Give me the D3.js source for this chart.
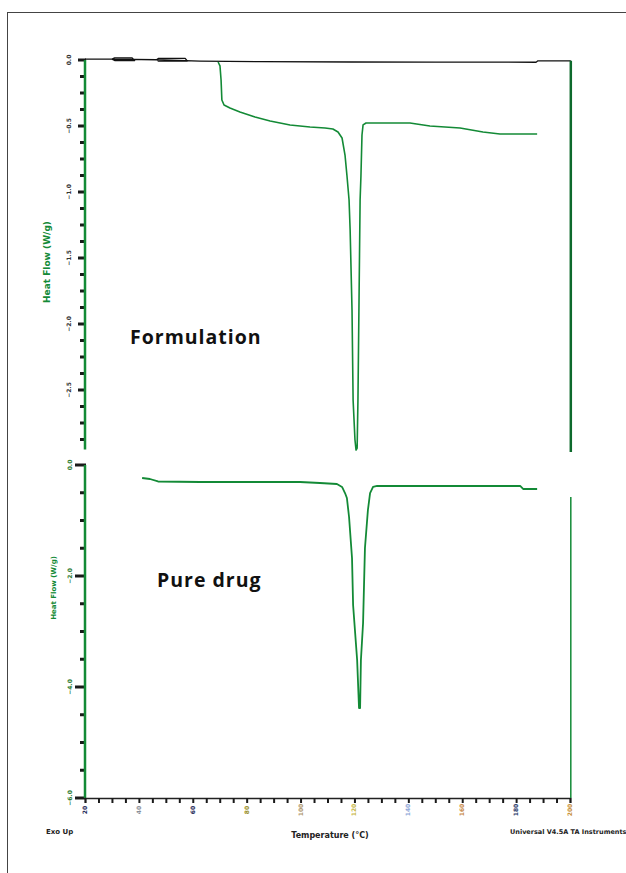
<!DOCTYPE html>
<html>
<head>
<meta charset="utf-8">
<script src="https://cdn.jsdelivr.net/npm/d3@7"></script>
<style>
	body { margin: 0; background: #fff; }
	svg { display: block; }
</style>
</head>
<body>
<div id="graph"></div>
<script>
// temperature axis (deg C) and heat flow ticks
var tempTicks = [20, 40, 60, 80, 100, 120, 140, 160, 180, 200];
var topFlowTicks = [0, -0.5, -1, -1.5, -2, -2.5];
var botFlowTicks = [0, -2, -4, -6];

// formulation trace [temperature, heat flow]
var formTemp = [69.4, 70.1, 70.5, 70.8, 71.6, 73.8, 77.5, 83.1, 88.7, 96.1, 103.5, 109.1, 112.0, 113.9, 115.4, 116.5, 117.2, 118.0, 118.4, 119.1, 119.5, 120.2, 120.6, 121.0, 121.3, 121.7, 122.1, 122.4, 122.8, 123.2, 124.3, 140.6, 148.0, 159.2, 167.7, 174.0, 187.8];
var formFlow = [-0.015, -0.045, -0.152, -0.303, -0.341, -0.364, -0.394, -0.432, -0.462, -0.492, -0.508, -0.515, -0.523, -0.545, -0.591, -0.720, -0.871, -1.061, -1.288, -1.894, -2.576, -2.879, -2.955, -2.94, -2.576, -1.818, -1.061, -0.886, -0.568, -0.492, -0.477, -0.477, -0.500, -0.515, -0.545, -0.561, -0.561];

// black trace on top of formulation panel
var baseTemp = [20, 30.0, 31.0, 37.5, 38.4, 31.0, 30.0, 46.5, 47.2, 57.2, 58.0, 47.2, 46.5, 62.7, 84.9, 119, 150, 187.4, 188.1, 200.3];
var baseFlow = [0.006, 0.006, 0.016, 0.016, -0.004, -0.004, 0.006, 0.002, 0.012, 0.012, -0.008, -0.008, 0.002, -0.008, -0.012, -0.015, -0.016, -0.017, -0.006, -0.006];

// pure drug trace
var drugTemp = [41.2, 44.1, 47.1, 62.7, 99.8, 107.2, 113.5, 115.4, 116.5, 117.2, 118.0, 119.1, 119.5, 121.0, 121.7, 122.1, 122.4, 123.2, 123.9, 125.0, 125.8, 126.9, 128.4, 155.5, 181.5, 182.6, 187.8];
var drugFlow = [-0.234, -0.252, -0.297, -0.306, -0.306, -0.324, -0.342, -0.396, -0.505, -0.595, -0.937, -1.676, -2.523, -3.514, -4.378, -4.378, -3.514, -2.847, -1.495, -0.811, -0.505, -0.396, -0.378, -0.378, -0.378, -0.432, -0.432];

// end of run verticals
var endTemp = [200.3, 200.3];
var topEndFlow = [-0.006, -2.97];
var botEndFlow = [-0.577, -6];

var w = 626, h = 873;
var green = "#138a36";
var tickColors = ["#1f2a5a", "#8a8f9a", "#1f2a5a", "#9a8f2a", "#b09870", "#c8b84a", "#8fa8d8", "#c88a4a", "#2a3a6a", "#c8903a"];

var svg = d3.select("#graph")
	.append("svg")
	.attr("width", w)
	.attr("height", h);

svg.append("rect")
	.attr("x", 7.5)
	.attr("y", 12.5)
	.attr("width", 700)
	.attr("height", 900)
	.attr("fill", "none")
	.attr("stroke", "#444")
	.attr("stroke-width", 1);

var xScale = d3.scaleLinear()
	.domain([20, 200])
	.range([85, 570]);
var yTop = d3.scaleLinear()
	.domain([0, -2.95])
	.range([60, 449.4]);
var yBot = d3.scaleLinear()
	.domain([0, -6])
	.range([465, 798]);

function zipPts(a, b) {
	return a.map(function (d, i) { return [d, b[i]]; });
}

function drawLine(pts, yScale, color, width) {
	var line = d3.line()
		.x(function (d) { return xScale(d[0]); })
		.y(function (d) { return yScale(d[1]); });
	svg.append("path")
		.datum(pts)
		.attr("fill", "none")
		.attr("stroke", color)
		.attr("stroke-width", width)
		.attr("stroke-linejoin", "round")
		.attr("d", line);
}

function drawYAxis(yScale, ticks, majorLen, labelX, labelColor) {
	var step = ticks[1] - ticks[0];
	var all = [];
	for (var i = 0; i < ticks.length; i++) {
		for (var k = 0; k < 4; k++) {
			var v = ticks[i] + step * k / 4;
			if (yScale(v) <= yScale.range()[1] + 0.5) all.push({v: v, major: k == 0});
		}
	}
	svg.append("g")
		.selectAll("rect")
		.data(all)
		.enter()
		.append("rect")
		.attr("x", function (d) { return d.major ? 86 - majorLen : 80; })
		.attr("width", function (d) { return d.major ? majorLen : 6; })
		.attr("y", function (d) { return yScale(d.v) - 1.5; })
		.attr("height", 3)
		.attr("fill", "#1a1a1a");

	svg.append("line")
		.attr("x1", 85)
		.attr("x2", 85)
		.attr("y1", yScale.range()[0])
		.attr("y2", yScale.range()[1])
		.attr("stroke", green)
		.attr("stroke-width", 2.5);

	svg.append("g")
		.selectAll("text")
		.data(ticks)
		.enter()
		.append("text")
		.attr("transform", function (d) {
			return "translate(" + labelX + "," + yScale(d) + ") rotate(-90)";
		})
		.attr("text-anchor", "middle")
		.attr("font-family", "DejaVu Sans")
		.attr("font-size", 6)
		.attr("font-weight", "bold")
		.attr("fill", labelColor)
		.text(function (d) { return d3.format(".1f")(d); });
}

drawYAxis(yTop, topFlowTicks, 8, 71, "#333");
drawYAxis(yBot, botFlowTicks, 11, 72, "#2e7d32");

// x axis at bottom
var xMinor = [];
for (var i = 0; i < tempTicks.length - 1; i++) {
	for (var k = 0; k < 4; k++) xMinor.push(tempTicks[i] + 5 * k);
}
xMinor.push(200);
var gx = svg.append("g").attr("transform", "translate(0,798)");
gx.call(d3.axisBottom(xScale).tickValues(xMinor).tickSize(5).tickFormat(""));
gx.selectAll(".tick line").attr("stroke", "#1a1a1a").attr("stroke-width", 2);
gx.select(".domain").attr("stroke", "#222").attr("stroke-width", 1.5);

svg.append("g")
	.selectAll("text")
	.data(tempTicks)
	.enter()
	.append("text")
	.attr("transform", function (d) {
		return "translate(" + (xScale(d) + 2) + ",810) rotate(-90)";
	})
	.attr("text-anchor", "middle")
	.attr("font-family", "DejaVu Sans")
	.attr("font-size", 6)
	.attr("font-weight", "bold")
	.attr("fill", function (d, i) { return tickColors[i]; })
	.text(function (d) { return d; });

// traces
drawLine(zipPts(baseTemp, baseFlow), yTop, "#111", 1.3);
drawLine(zipPts(formTemp, formFlow), yTop, green, 1.6);
drawLine(zipPts(endTemp, topEndFlow), yTop, "#0d6a2c", 2.5);
drawLine(zipPts(drugTemp, drugFlow), yBot, green, 1.8);
drawLine(zipPts(endTemp, botEndFlow), yBot, green, 1.5);

// axis titles
svg.append("text")
	.attr("transform", "translate(50,262) rotate(-90)")
	.attr("text-anchor", "middle")
	.attr("font-family", "DejaVu Sans")
	.attr("font-size", 9)
	.attr("font-weight", "bold")
	.attr("fill", green)
	.text("Heat Flow (W/g)");

svg.append("text")
	.attr("transform", "translate(56,588) rotate(-90)")
	.attr("text-anchor", "middle")
	.attr("font-family", "DejaVu Sans")
	.attr("font-size", 7)
	.attr("font-weight", "bold")
	.attr("fill", green)
	.text("Heat Flow (W/g)");

svg.append("text")
	.attr("x", 330)
	.attr("y", 838)
	.attr("text-anchor", "middle")
	.attr("font-family", "DejaVu Sans")
	.attr("font-size", 8)
	.attr("font-weight", "bold")
	.attr("fill", "#222")
	.text("Temperature (°C)");

svg.append("text")
	.attr("x", 46)
	.attr("y", 834)
	.attr("font-family", "DejaVu Sans")
	.attr("font-size", 7)
	.attr("font-weight", "bold")
	.attr("fill", "#222")
	.text("Exo Up");

svg.append("text")
	.attr("x", 510)
	.attr("y", 834)
	.attr("font-family", "DejaVu Sans")
	.attr("font-size", 6.5)
	.attr("font-weight", "bold")
	.attr("fill", "#222")
	.text("Universal V4.5A TA Instruments");

// sample names
svg.append("text")
	.attr("x", 130)
	.attr("y", 344)
	.attr("font-family", "Open Sans")
	.attr("font-size", 19.5)
	.attr("font-weight", "bold")
	.attr("letter-spacing", 1)
	.attr("fill", "#111")
	.text("Formulation");

svg.append("text")
	.attr("x", 157)
	.attr("y", 587)
	.attr("font-family", "Open Sans")
	.attr("font-size", 19.5)
	.attr("font-weight", "bold")
	.attr("letter-spacing", 1)
	.attr("fill", "#111")
	.text("Pure drug");
</script>
</body>
</html>
